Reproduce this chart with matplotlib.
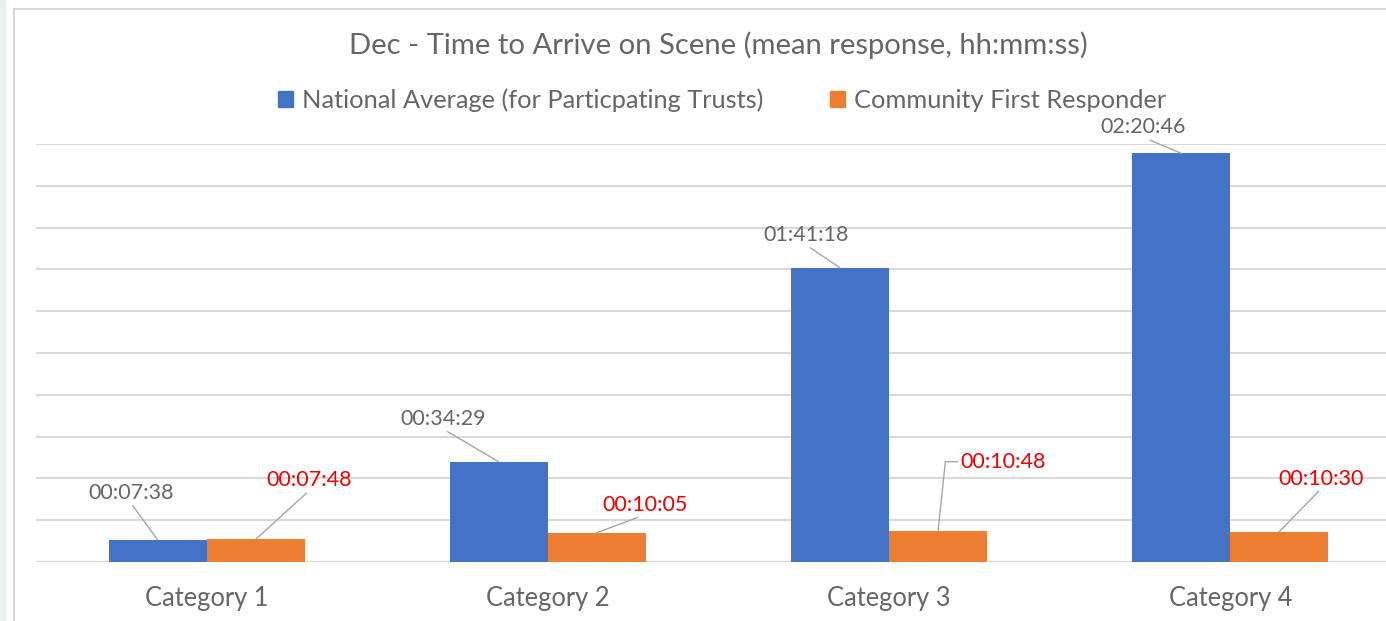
import numpy as np
import matplotlib
matplotlib.use('Agg')
import matplotlib.pyplot as plt
from matplotlib.patches import Patch, Rectangle
from matplotlib.lines import Line2D

# data (hh:mm:ss)
categories = ['Category 1', 'Category 2', 'Category 3', 'Category 4']
national = ['00:07:38', '00:34:29', '01:41:18', '02:20:46']
cfr = ['00:07:48', '00:10:05', '00:10:48', '00:10:30']
series_names = ['National Average (for Particpating Trusts)',
                'Community First Responder']

# label offsets from bar tops, in pixels
nat_offsets = [(-27, 47), (-56, 43), (-34, 33), (-38, 26)]
cfr_offsets = [(54, 59), (48, 28), (65, 69), (42, 53)]

BLUE = '#4472C4'
ORANGE = '#ED7D31'
GREY = '#666666'
RED = '#F00000'
GRID = '#D9D9D9'
FONT = 'Lato'


def to_sec(s):
    h, m, sec = (int(p) for p in s.split(':'))
    return h * 3600 + m * 60 + sec


def fmt(v):
    v = int(v)
    return '{:02d}:{:02d}:{:02d}'.format(v // 3600, v % 3600 // 60, v % 60)


plt.rcParams['font.family'] = [FONT, 'DejaVu Sans']

W, H = 1386, 621
fig = plt.figure(figsize=(W / 100, H / 100), dpi=100)

# frame bits around the chart area
fig.patches.append(Rectangle((0, 0), 5 / W, 1, transform=fig.transFigure,
                             color='#E8F1EB', zorder=0))
fig.add_artist(Line2D([13.5 / W, 13.5 / W], [0, 1 - 9 / H], color=GRID,
                      lw=1.5, transform=fig.transFigure))
fig.add_artist(Line2D([13.5 / W, 1], [1 - 9 / H, 1 - 9 / H], color=GRID,
                      lw=1.5, transform=fig.transFigure))

ax = fig.add_axes([36 / W, 1 - 562 / H, 1365 / W, 418 / H])

nat = np.array([to_sec(s) for s in national])
com = np.array([to_sec(s) for s in cfr])
x = np.arange(len(categories))
w = 0.287

ax.bar(x - w / 2, nat, w, color=BLUE, zorder=3)
ax.bar(x + w / 2, com, w, color=ORANGE, zorder=3)

ax.set_xlim(-0.5, len(categories) - 0.5)
ax.set_ylim(0, 8640)
ax.set_yticks(np.arange(0, 8641, 864))
ax.yaxis.grid(True, color=GRID, lw=1.5, zorder=0)
ax.set_yticklabels([])
ax.tick_params(axis='y', length=0)
for s in ax.spines.values():
    s.set_visible(False)
ax.set_xticks(x, categories)
ax.tick_params(axis='x', length=0, pad=17, labelsize=18.4, labelcolor=GREY)

line_kw = dict(arrowstyle='-', color='#A6A6A6', lw=1, shrinkA=0, shrinkB=0)

for xi, v, off in zip(x - w / 2, nat, nat_offsets):
    ax.annotate(fmt(v), (xi, v), xytext=off, textcoords='offset pixels',
                ha='center', va='center', fontsize=15.5, color=GREY,
                arrowprops=dict(relpos=(0.5, 0), **line_kw), zorder=4)

for i, (xi, v, off) in enumerate(zip(x + w / 2, com, cfr_offsets)):
    if i == 2:
        ap = dict(relpos=(0, 0.5),
                  connectionstyle='angle,angleA=0,angleB=84', **line_kw)
    else:
        ap = dict(relpos=(0.5, 0), **line_kw)
    ax.annotate(fmt(v), (xi, v), xytext=off, textcoords='offset pixels',
                ha='center', va='center', fontsize=15.5, color=RED,
                arrowprops=ap, zorder=4)

fig.text(718 / W, 1 - 45 / H,
         'Dec - Time to Arrive on Scene (mean response, hh:mm:ss)',
         ha='center', va='center', fontsize=21.1, color=GREY)

handles = [Patch(color=BLUE), Patch(color=ORANGE)]
fig.legend(handles, series_names, loc='center', ncol=2,
           bbox_to_anchor=(722 / W, 1 - 100 / H), frameon=False,
           fontsize=18.3, labelcolor=GREY, handlelength=0.6, handleheight=0.6,
           handletextpad=0.35, columnspacing=2.6)

fig.savefig('out.png', dpi=100)
